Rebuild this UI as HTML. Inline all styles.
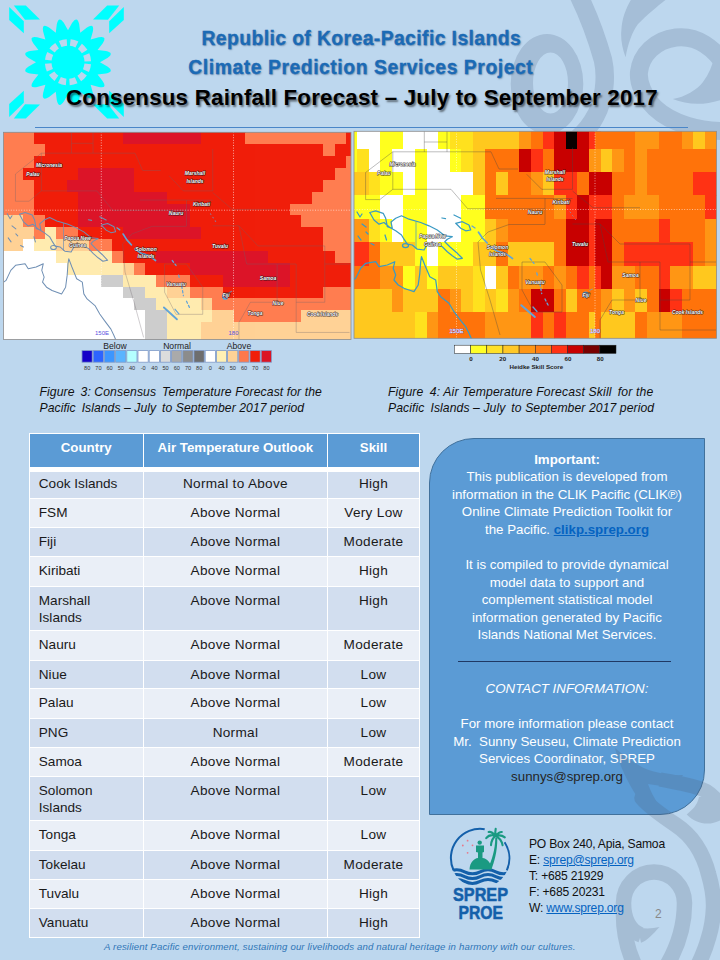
<!DOCTYPE html>
<html lang="en"><head><meta charset="utf-8"><title>Consensus Rainfall Forecast</title>
<style>
html,body{margin:0;padding:0}
body{width:720px;height:960px;position:relative;overflow:hidden;background:#BDD7EE;font-family:"Liberation Sans",sans-serif;color:#111}
.abs{position:absolute}
svg{position:absolute;left:0;top:0}
.t1{position:absolute;white-space:nowrap;font-weight:bold;color:#1B6AB5;-webkit-text-stroke:.3px #1B6AB5;font-size:19.3px;line-height:24px;text-shadow:1px 1px 1.5px rgba(60,90,130,.55);transform-origin:0 0}
.t3{position:absolute;white-space:nowrap;font-weight:bold;color:#000;font-size:22.3px;line-height:28px;letter-spacing:.23px;text-shadow:1.5px 1.5px 2px rgba(0,0,0,.5);transform-origin:0 0}
.cap{position:absolute;white-space:nowrap;font-style:italic;font-size:12.2px;line-height:16.3px;color:#111;transform-origin:0 0}
.ml{font:italic bold 5px "Liberation Sans",sans-serif;fill:#fff;text-anchor:middle;paint-order:stroke;stroke:rgba(25,20,25,.85);stroke-width:1.1px;stroke-linejoin:round}
.ll{font:8.6px "Liberation Sans",sans-serif;fill:#222;text-anchor:middle}
.ln{font:5.6px "Liberation Sans",sans-serif;fill:#333;text-anchor:middle}
.hn{font:bold 6.2px "Liberation Sans",sans-serif;fill:#222;text-anchor:middle}
.deg{font:6px "Liberation Sans",sans-serif;fill:#5A50E0;text-anchor:middle}
.tb{position:absolute}
.th{position:absolute;background:#5B9BD5;color:#fff;font-weight:bold;font-size:13.3px;text-align:center;line-height:28px;white-space:nowrap}
.td{position:absolute;font-size:13.6px;line-height:17px;color:#1a1a1a;box-sizing:border-box;padding-top:5px;white-space:nowrap}
.td.l{text-align:left;padding-left:9px}
.td.c{text-align:center;letter-spacing:.3px}
.box{position:absolute;left:429px;top:437.5px;width:276px;height:377px;box-sizing:border-box;background:#5B9BD5;border:1px solid #41719C;border-radius:45px 0 45px 0}
.bx{position:absolute;left:429px;width:276px;text-align:center;color:#fff;font-size:13.3px;line-height:17.6px;white-space:nowrap}
.bx a{color:#0563C1;font-weight:bold;text-decoration:underline}
.ci{position:absolute;left:529px;font-size:12.1px;letter-spacing:-.2px;line-height:16px;white-space:nowrap;color:#111}
.ci a{color:#0563C1;text-decoration:underline}
.ft{position:absolute;white-space:nowrap;font-style:italic;font-size:9.6px;letter-spacing:.16px;color:#2E75B6;left:104px;top:940.2px;line-height:14px}
</style></head><body>

<!-- decorative swirls -->
<svg width="720" height="960" viewBox="0 0 720 960">
 <g fill="none" stroke="#A5BED7">
  <path d="M577 -8 C586 10 596 35 603 60 C607 78 604 100 596 115 C591 125 585 132 578 138" stroke-width="18.5"/>
  <path d="M724 131 C700 131 672 124 655 108 C643 96 638 82 639 72 C641 55 655 40 676 37.5 C697 35 714 48 726 66" stroke-width="18"/>
 </g>
 <g fill="#A5BED7">
  <path fill-rule="evenodd" d="M510.7 84 A36.3 50 0 1 1 583.3 84 A36.3 50 0 1 1 510.7 84 Z M533 83 A17.5 30.5 0 1 0 568 83 A17.5 30.5 0 1 0 533 83 Z"/>
  <path d="M632 -2 L668 -2 C660 4 648 14 638 24 C632 32 628 44 625.6 57.2 C622 48 620.5 38 621.4 30 C622 18 626 8 632 -2 Z"/>
  <path d="M672.8 99 C685 97 697 90 703 82 C709 74 712 66 714 58 L726 58 L726 98 C706 106 688 105 672.8 99 Z"/>
 </g>
</svg>

<!-- logo -->
<svg width="135" height="130" viewBox="0 0 135 130">
 <g fill="#00FFFF">
  <polygon points="13.8,5.4 25.8,5.4 40,19.6 25,19.8"/>
  <polygon points="9.2,7.1 23.8,21.3 23.8,33.3 9.2,20"/>
  <polygon points="119.2,5.4 107.2,5.4 93,19.6 108,19.8"/>
  <polygon points="123.8,7.1 109.2,21.3 109.2,33.3 123.8,20"/>
  <polygon points="13.8,118.6 25.8,118.6 40,104.4 25,104.2"/>
  <polygon points="9.2,116.9 23.8,102.7 23.8,90.7 9.2,104"/>
  <polygon points="119.2,118.6 107.2,118.6 93,104.4 108,104.2"/>
  <polygon points="123.8,116.9 109.2,102.7 109.2,90.7 123.8,104"/>
  <path id="sun" d="M72.20 22.82 Q77.32 15.36 79.19 24.21 L80.25 32.64 L86.95 27.43 Q94.53 22.49 92.87 31.38 L90.63 39.57 L98.82 37.33 Q107.71 35.67 102.77 43.25 L97.56 49.95 L105.99 51.01 Q114.84 52.88 107.38 58.00 L100.00 62.20 L107.38 66.40 Q114.84 71.52 105.99 73.39 L97.56 74.45 L102.77 81.15 Q107.71 88.73 98.82 87.07 L90.63 84.83 L92.87 93.02 Q94.53 101.91 86.95 96.97 L80.25 91.76 L79.19 100.19 Q77.32 109.04 72.20 101.58 L68.00 94.20 L63.80 101.58 Q58.68 109.04 56.81 100.19 L55.75 91.76 L49.05 96.97 Q41.47 101.91 43.13 93.02 L45.37 84.83 L37.18 87.07 Q28.29 88.73 33.23 81.15 L38.44 74.45 L30.01 73.39 Q21.16 71.52 28.62 66.40 L36.00 62.20 L28.62 58.00 Q21.16 52.88 30.01 51.01 L38.44 49.95 L33.23 43.25 Q28.29 35.67 37.18 37.33 L45.37 39.57 L43.13 31.38 Q41.47 22.49 49.05 27.43 L55.75 32.64 L56.81 24.21 Q58.68 15.36 63.80 22.82 L68.00 30.20 Z"/>
 </g>
 <circle cx="68" cy="62.2" r="19.8" fill="none" stroke="#BDD7EE" stroke-width="6.6" stroke-dasharray="6.87 3.497" stroke-dashoffset="-1.75"/>
</svg>

<div class="t1" id="t1a" style="left:201.5px;top:27px;letter-spacing:.43px">Republic of Korea-Pacific Islands</div>
<div class="t1" id="t1b" style="left:188.3px;top:55.8px;letter-spacing:.58px">Climate Prediction Services Project</div>
<div class="t3" id="t3" style="left:66px;top:84.1px">Consensus Rainfall Forecast – July to September 2017</div>
<div class="abs" style="left:35px;top:127px;width:653px;height:1.3px;background:#4A86C8"></div>

<!-- maps -->
<svg width="720" height="380" viewBox="0 0 720 380">
 <defs>
  <clipPath id="cl"><rect x="3.5" y="132.3" width="347.5" height="207.2"/></clipPath>
  <clipPath id="cr"><rect x="354" y="131.3" width="362.6" height="207"/></clipPath>

  <g id="coast" fill="none" stroke-linejoin="round" stroke-linecap="round">
   <path d="M369.8 212.5 L375.7 210.8 L383.2 213.3 L385.7 218.3 L387.3 226.7 L392.3 228.3 L391 222 L395.7 218.3 L401.5 215.8 L409 219.2 L420.7 222.5 L429 225.8 L437.3 230 L444.8 235.8 L452.3 236.7 L447.3 239.2 L444.8 241.7 L449.8 246.7 L456.5 252.5 L462.3 258.3 L457.3 259.2 L452.3 255.8 L447.3 251.7 L442.3 246.7 L435.7 243.3 L427.3 244.2 L424 250 L417.3 249.2 L412.3 245 L407.3 244.2 L404 239.2 L401.5 235 L395.7 230.8 L389.8 227.5 L384 222.5 L379 224.2 L374 220 Z"/>
   <path d="M416 221.7 V248.3" stroke-width=".7"/>
   <path d="M354 279.5 L355.7 278.3 L360.7 268.3 L365.7 263.3 L375.7 261.7 L379 266.7 L387.3 265 L394.8 261.7 L393.2 268.3 L395.7 275 L394 280 L398.2 285 L404 288.3 L409 290 L414 291.7 L418.2 285 L419.8 273.3 L420.7 261.7 L421.5 256.7 L424.8 265 L429.8 276.7 L435.7 280 L437.3 291.7 L440.7 296.7 L449 303.3 L454 311.7 L459 318.3 L465.7 326.7 L469 333.3 L472 340"/>
   <path d="M455.7 223.3 L462.3 221.7 L469 225 L470.7 230 L465.7 230.8 L460.7 228.3 Z"/>
   <path d="M454 215 L460.7 218.3 M442 218 l3.5 .6 M385 235 l1.5 5 M371 243.5 l3 1.5 M357 212 l3 5 2 -3 M362 224 l4 3 M358 236 l3 4 M366 232 l2 2"/>
   <ellipse cx="405.5" cy="245.5" rx="3" ry="2"/>
  </g>
  <g id="eez" fill="none" stroke-linejoin="round">
   <path d="M424.3 131 V151.8 M424.3 142 H447 M447 131 V151.8"/>
   <path d="M392.8 151.8 L365.6 172.5 V199.6 H379.8 L392.8 189.3 V151.8"/>
   <path d="M392.8 151.8 H491 L499 169 H518 M392.8 189.3 H451 L467.7 208.7 H545"/>
   <path d="M496 198.4 H545 V224.2 M545 198.5 H572.5 M526.7 174.3 L541.7 189.3 H572.5 V147.7 M572.5 191 L593 207.7 H640"/>
   <path d="M478 242 L488 232 L509 224.5 H545 M478 242 L480.5 270 L490 300 L500 335"/>
   <path d="M522 262 L545 262 L562 285 L562 312 L534 312 L522 290 Z"/>
   <path d="M572.5 224 L600 224 L620 244 M600 224 L608 262 L640 262 L640 300 L612 300 L600 320 L600 338"/>
   <path d="M620 244 H690 V300 H660 V262 H640 M690 262 H716 M660 300 V330 H716"/>
  </g>
  <g id="isl" fill="none" stroke-linecap="round" stroke-linejoin="round">
   <path d="M478.5 232.2 L482.4 238 L487.2 243 M491 247 L497 251 L505.7 253.6 L512.5 258.5" stroke-width="1.7"/>
   <path d="M530 258.5 L534 263.4 M536.8 273 L537.8 277 M540 284 L541.7 293.5 M545 299 L548.5 306" stroke-width="1.3" stroke-dasharray="2.2 2.4"/>
   <path d="M521.3 305.2 L534.9 316.9" stroke-width="2"/>
   <path d="M533 307 l4 4.5 M472 226 l3 2" stroke-width="1.3"/>
   <circle cx="585.5" cy="294.5" r="2" stroke-width="2.2"/>
   <path d="M589.5 290.5 l3 -1.5 M570 212 l.6 .6 M572.5 215.5 l.6 .6 M575 219 l.6 .6" stroke-width="1" opacity=".7"/>
  </g>

 </defs>
 <g clip-path="url(#cl)" shape-rendering="crispEdges">
<rect x="0.33" y="132.30" width="33.72" height="12.17" fill="#FF7D50"/>
<rect x="33.75" y="132.30" width="89.42" height="12.17" fill="#F01E0A"/>
<rect x="122.87" y="132.30" width="78.28" height="12.17" fill="#DC1428"/>
<rect x="200.85" y="132.30" width="44.86" height="12.17" fill="#F01E0A"/>
<rect x="245.41" y="132.30" width="100.56" height="12.17" fill="#FF7D50"/>
<rect x="345.67" y="132.30" width="11.44" height="12.17" fill="#F01E0A"/>
<rect x="0.33" y="144.17" width="44.86" height="12.17" fill="#FF7D50"/>
<rect x="44.89" y="144.17" width="278.80" height="12.17" fill="#F01E0A"/>
<rect x="323.39" y="144.17" width="11.44" height="12.17" fill="#FF7D50"/>
<rect x="334.53" y="144.17" width="22.58" height="12.17" fill="#F01E0A"/>
<rect x="0.33" y="156.04" width="33.72" height="12.17" fill="#FF7D50"/>
<rect x="33.75" y="156.04" width="312.22" height="12.17" fill="#F01E0A"/>
<rect x="345.67" y="156.04" width="11.44" height="12.17" fill="#FF7D50"/>
<rect x="0.33" y="167.91" width="22.58" height="12.17" fill="#FF7D50"/>
<rect x="22.61" y="167.91" width="56.00" height="12.17" fill="#F01E0A"/>
<rect x="78.31" y="167.91" width="56.00" height="12.17" fill="#DC1428"/>
<rect x="134.01" y="167.91" width="200.82" height="12.17" fill="#F01E0A"/>
<rect x="334.53" y="167.91" width="22.58" height="12.17" fill="#FF7D50"/>
<rect x="0.33" y="179.78" width="33.72" height="12.17" fill="#FF7D50"/>
<rect x="33.75" y="179.78" width="33.72" height="12.17" fill="#F01E0A"/>
<rect x="67.17" y="179.78" width="67.14" height="12.17" fill="#DC1428"/>
<rect x="134.01" y="179.78" width="189.68" height="12.17" fill="#F01E0A"/>
<rect x="323.39" y="179.78" width="33.72" height="12.17" fill="#FF7D50"/>
<rect x="0.33" y="191.65" width="33.72" height="12.17" fill="#FF7D50"/>
<rect x="33.75" y="191.65" width="44.86" height="12.17" fill="#F01E0A"/>
<rect x="78.31" y="191.65" width="89.42" height="12.17" fill="#DC1428"/>
<rect x="167.43" y="191.65" width="145.12" height="12.17" fill="#F01E0A"/>
<rect x="312.25" y="191.65" width="44.86" height="12.17" fill="#FF7D50"/>
<rect x="0.33" y="203.52" width="33.72" height="12.17" fill="#FF7D50"/>
<rect x="33.75" y="203.52" width="44.86" height="12.17" fill="#F01E0A"/>
<rect x="78.31" y="203.52" width="111.70" height="12.17" fill="#DC1428"/>
<rect x="189.71" y="203.52" width="100.56" height="12.17" fill="#F01E0A"/>
<rect x="289.97" y="203.52" width="67.14" height="12.17" fill="#FF7D50"/>
<rect x="0.33" y="215.39" width="22.58" height="12.17" fill="#FFD296"/>
<rect x="22.61" y="215.39" width="22.58" height="12.17" fill="#FF7D50"/>
<rect x="44.89" y="215.39" width="33.72" height="12.17" fill="#F01E0A"/>
<rect x="78.31" y="215.39" width="111.70" height="12.17" fill="#DC1428"/>
<rect x="189.71" y="215.39" width="111.70" height="12.17" fill="#F01E0A"/>
<rect x="301.11" y="215.39" width="56.00" height="12.17" fill="#FF7D50"/>
<rect x="0.33" y="227.26" width="33.72" height="12.17" fill="#FFD296"/>
<rect x="33.75" y="227.26" width="11.44" height="12.17" fill="#FF7D50"/>
<rect x="44.89" y="227.26" width="11.44" height="12.17" fill="#FFEBAF"/>
<rect x="56.03" y="227.26" width="22.58" height="12.17" fill="#FF7D50"/>
<rect x="78.31" y="227.26" width="44.86" height="12.17" fill="#F01E0A"/>
<rect x="122.87" y="227.26" width="78.28" height="12.17" fill="#DC1428"/>
<rect x="200.85" y="227.26" width="122.84" height="12.17" fill="#F01E0A"/>
<rect x="323.39" y="227.26" width="33.72" height="12.17" fill="#FF7D50"/>
<rect x="0.33" y="239.13" width="22.58" height="12.17" fill="#FFD296"/>
<rect x="22.61" y="239.13" width="11.44" height="12.17" fill="#FFFFFF"/>
<rect x="33.75" y="239.13" width="22.58" height="12.17" fill="#FFEBAF"/>
<rect x="56.03" y="239.13" width="33.72" height="12.17" fill="#FFD296"/>
<rect x="89.45" y="239.13" width="22.58" height="12.17" fill="#FF7D50"/>
<rect x="111.73" y="239.13" width="211.96" height="12.17" fill="#F01E0A"/>
<rect x="323.39" y="239.13" width="33.72" height="12.17" fill="#FF7D50"/>
<rect x="0.33" y="251.00" width="56.00" height="12.17" fill="#FFFFFF"/>
<rect x="56.03" y="251.00" width="56.00" height="12.17" fill="#FFEBAF"/>
<rect x="111.73" y="251.00" width="11.44" height="12.17" fill="#FF7D50"/>
<rect x="122.87" y="251.00" width="33.72" height="12.17" fill="#F01E0A"/>
<rect x="156.29" y="251.00" width="111.70" height="12.17" fill="#DC1428"/>
<rect x="267.69" y="251.00" width="67.14" height="12.17" fill="#F01E0A"/>
<rect x="334.53" y="251.00" width="22.58" height="12.17" fill="#FF7D50"/>
<rect x="0.33" y="262.87" width="67.14" height="12.17" fill="#FFFFFF"/>
<rect x="67.17" y="262.87" width="56.00" height="12.17" fill="#FFEBAF"/>
<rect x="122.87" y="262.87" width="11.44" height="12.17" fill="#FFD296"/>
<rect x="134.01" y="262.87" width="11.44" height="12.17" fill="#FF7D50"/>
<rect x="145.15" y="262.87" width="44.86" height="12.17" fill="#F01E0A"/>
<rect x="189.71" y="262.87" width="100.56" height="12.17" fill="#DC1428"/>
<rect x="289.97" y="262.87" width="67.14" height="12.17" fill="#F01E0A"/>
<rect x="0.33" y="274.74" width="100.56" height="12.17" fill="#FFFFFF"/>
<rect x="100.59" y="274.74" width="22.58" height="12.17" fill="#CDCDCD"/>
<rect x="122.87" y="274.74" width="33.72" height="12.17" fill="#FFEBAF"/>
<rect x="156.29" y="274.74" width="33.72" height="12.17" fill="#FF7D50"/>
<rect x="189.71" y="274.74" width="33.72" height="12.17" fill="#F01E0A"/>
<rect x="223.13" y="274.74" width="67.14" height="12.17" fill="#DC1428"/>
<rect x="289.97" y="274.74" width="67.14" height="12.17" fill="#F01E0A"/>
<rect x="0.33" y="286.61" width="122.84" height="12.17" fill="#FFFFFF"/>
<rect x="122.87" y="286.61" width="22.58" height="12.17" fill="#CDCDCD"/>
<rect x="145.15" y="286.61" width="22.58" height="12.17" fill="#FFEBAF"/>
<rect x="167.43" y="286.61" width="22.58" height="12.17" fill="#FFD296"/>
<rect x="189.71" y="286.61" width="33.72" height="12.17" fill="#FF7D50"/>
<rect x="223.13" y="286.61" width="100.56" height="12.17" fill="#F01E0A"/>
<rect x="323.39" y="286.61" width="33.72" height="12.17" fill="#FF7D50"/>
<rect x="0.33" y="298.48" width="133.98" height="12.17" fill="#FFFFFF"/>
<rect x="134.01" y="298.48" width="22.58" height="12.17" fill="#CDCDCD"/>
<rect x="156.29" y="298.48" width="44.86" height="12.17" fill="#FFEBAF"/>
<rect x="200.85" y="298.48" width="11.44" height="12.17" fill="#FFD296"/>
<rect x="211.99" y="298.48" width="145.12" height="12.17" fill="#FF7D50"/>
<rect x="0.33" y="310.35" width="145.12" height="12.17" fill="#FFFFFF"/>
<rect x="145.15" y="310.35" width="22.58" height="12.17" fill="#CDCDCD"/>
<rect x="167.43" y="310.35" width="44.86" height="12.17" fill="#FFEBAF"/>
<rect x="211.99" y="310.35" width="22.58" height="12.17" fill="#FFD296"/>
<rect x="234.27" y="310.35" width="67.14" height="12.17" fill="#FF7D50"/>
<rect x="301.11" y="310.35" width="56.00" height="12.17" fill="#FFD296"/>
<rect x="0.33" y="322.22" width="145.12" height="12.17" fill="#FFFFFF"/>
<rect x="145.15" y="322.22" width="22.58" height="12.17" fill="#CDCDCD"/>
<rect x="167.43" y="322.22" width="33.72" height="12.17" fill="#FFEBAF"/>
<rect x="200.85" y="322.22" width="156.26" height="12.17" fill="#FFD296"/>
<rect x="0.33" y="334.09" width="145.12" height="12.17" fill="#FFFFFF"/>
<rect x="145.15" y="334.09" width="22.58" height="12.17" fill="#CDCDCD"/>
<rect x="167.43" y="334.09" width="33.72" height="12.17" fill="#FFEBAF"/>
<rect x="200.85" y="334.09" width="156.26" height="12.17" fill="#FFD296"/>
 </g>
 <g clip-path="url(#cl)">

  <g stroke="#fff" stroke-width="0.7" stroke-dasharray="1 1.6" fill="none" opacity=".85"><path d="M3 210.2H351"/><path d="M101.3 132V340"/><path d="M233.5 132V340"/></g>
  <g transform="translate(33 174) scale(0.95356 1.00604) translate(-384 -172.5)"><use href="#eez" stroke="rgba(110,100,110,.55)" stroke-width=".6"/><use href="#coast" stroke="#6F8FB4" stroke-width="1.05"/><use href="#isl" stroke="#62A4D8"/></g>
  <text x="102" y="334.5" class="deg">150E</text><text x="233.5" y="334.5" class="deg">180</text>
<text x="49.0" y="167.0" class="ml">Micronesia</text>
<text x="33.0" y="176.0" class="ml">Palau</text>
<text x="195.0" y="174.5" class="ml">Marshall</text>
<text x="195.0" y="182.5" class="ml">Islands</text>
<text x="201.5" y="205.5" class="ml">Kiribati</text>
<text x="176.0" y="215.0" class="ml">Nauru</text>
<text x="220.0" y="248.0" class="ml">Tuvalu</text>
<text x="77.5" y="239.5" class="ml">Papua New</text>
<text x="77.5" y="247.0" class="ml">Guinea</text>
<text x="146.0" y="250.5" class="ml">Solomon</text>
<text x="146.0" y="258.0" class="ml">Islands</text>
<text x="268.0" y="279.5" class="ml">Samoa</text>
<text x="176.0" y="285.5" class="ml">Vanuatu</text>
<text x="226.0" y="297.0" class="ml">Fiji</text>
<text x="278.0" y="304.5" class="ml">Niue</text>
<text x="255.0" y="314.5" class="ml">Tonga</text>
<text x="322.5" y="315.5" class="ml">Cook Islands</text>
 </g>
 <rect x="3.5" y="132.3" width="347.5" height="207.2" fill="none" stroke="#8C8C8C" stroke-width="0.8"/>
 <g clip-path="url(#cr)" shape-rendering="crispEdges">
<rect x="354.00" y="131.30" width="3.30" height="17.50" fill="#FFFF1E"/>
<rect x="357.00" y="131.30" width="23.50" height="17.50" fill="#FFFFFF"/>
<rect x="380.20" y="131.30" width="23.50" height="17.50" fill="#FFFF1E"/>
<rect x="403.40" y="131.30" width="35.10" height="17.50" fill="#FFFFFF"/>
<rect x="438.20" y="131.30" width="11.90" height="17.50" fill="#FFFF1E"/>
<rect x="449.80" y="131.30" width="23.50" height="17.50" fill="#FFE11E"/>
<rect x="473.00" y="131.30" width="46.70" height="17.50" fill="#FFC81E"/>
<rect x="519.40" y="131.30" width="11.90" height="17.50" fill="#FF9614"/>
<rect x="531.00" y="131.30" width="11.90" height="17.50" fill="#FF730A"/>
<rect x="542.60" y="131.30" width="11.90" height="17.50" fill="#FF3214"/>
<rect x="554.20" y="131.30" width="11.90" height="17.50" fill="#C80000"/>
<rect x="565.80" y="131.30" width="11.90" height="17.50" fill="#0A0000"/>
<rect x="577.40" y="131.30" width="11.90" height="17.50" fill="#C80000"/>
<rect x="589.00" y="131.30" width="11.90" height="17.50" fill="#FF3214"/>
<rect x="600.60" y="131.30" width="35.10" height="17.50" fill="#FF730A"/>
<rect x="635.40" y="131.30" width="23.50" height="17.50" fill="#FF9614"/>
<rect x="658.60" y="131.30" width="23.50" height="17.50" fill="#FF730A"/>
<rect x="681.80" y="131.30" width="11.90" height="17.50" fill="#FF9614"/>
<rect x="693.40" y="131.30" width="11.90" height="17.50" fill="#FFC81E"/>
<rect x="705.00" y="131.30" width="11.90" height="17.50" fill="#FF9614"/>
<rect x="589" y="131.30" width="6" height="17.50" fill="#FF3214"/>
<rect x="595" y="131.30" width="5.9" height="17.50" fill="#FF730A"/>
<rect x="354.00" y="148.50" width="3.30" height="23.70" fill="#FFFF1E"/>
<rect x="357.00" y="148.50" width="11.90" height="23.70" fill="#FFE11E"/>
<rect x="368.60" y="148.50" width="11.90" height="23.70" fill="#FFFFFF"/>
<rect x="380.20" y="148.50" width="11.90" height="23.70" fill="#FFFF1E"/>
<rect x="391.80" y="148.50" width="23.50" height="23.70" fill="#FFFFFF"/>
<rect x="415.00" y="148.50" width="11.90" height="23.70" fill="#FFFF1E"/>
<rect x="426.60" y="148.50" width="23.50" height="23.70" fill="#FFFFFF"/>
<rect x="449.80" y="148.50" width="11.90" height="23.70" fill="#FFFF1E"/>
<rect x="461.40" y="148.50" width="11.90" height="23.70" fill="#FFE11E"/>
<rect x="473.00" y="148.50" width="11.90" height="23.70" fill="#FFC81E"/>
<rect x="484.60" y="148.50" width="35.10" height="23.70" fill="#FF730A"/>
<rect x="519.40" y="148.50" width="11.90" height="23.70" fill="#C80000"/>
<rect x="531.00" y="148.50" width="11.90" height="23.70" fill="#FF3214"/>
<rect x="542.60" y="148.50" width="11.90" height="23.70" fill="#FF730A"/>
<rect x="554.20" y="148.50" width="35.10" height="23.70" fill="#C80000"/>
<rect x="589.00" y="148.50" width="11.90" height="23.70" fill="#FF9614"/>
<rect x="600.60" y="148.50" width="11.90" height="23.70" fill="#FFC81E"/>
<rect x="612.20" y="148.50" width="11.90" height="23.70" fill="#FF9614"/>
<rect x="623.80" y="148.50" width="11.90" height="23.70" fill="#FF730A"/>
<rect x="635.40" y="148.50" width="11.90" height="23.70" fill="#FF9614"/>
<rect x="647.00" y="148.50" width="69.90" height="23.70" fill="#FF730A"/>
<rect x="354.00" y="171.90" width="14.90" height="23.70" fill="#FFC81E"/>
<rect x="368.60" y="171.90" width="11.90" height="23.70" fill="#FFE11E"/>
<rect x="380.20" y="171.90" width="23.50" height="23.70" fill="#FFFF1E"/>
<rect x="403.40" y="171.90" width="11.90" height="23.70" fill="#FFFFFF"/>
<rect x="415.00" y="171.90" width="11.90" height="23.70" fill="#FFFF1E"/>
<rect x="426.60" y="171.90" width="46.70" height="23.70" fill="#FFFFFF"/>
<rect x="473.00" y="171.90" width="11.90" height="23.70" fill="#FFC81E"/>
<rect x="484.60" y="171.90" width="11.90" height="23.70" fill="#FF730A"/>
<rect x="496.20" y="171.90" width="11.90" height="23.70" fill="#FFC81E"/>
<rect x="507.80" y="171.90" width="23.50" height="23.70" fill="#FF730A"/>
<rect x="531.00" y="171.90" width="11.90" height="23.70" fill="#FF9614"/>
<rect x="542.60" y="171.90" width="11.90" height="23.70" fill="#FFC81E"/>
<rect x="554.20" y="171.90" width="23.50" height="23.70" fill="#FF3214"/>
<rect x="577.40" y="171.90" width="11.90" height="23.70" fill="#FF730A"/>
<rect x="589.00" y="171.90" width="23.50" height="23.70" fill="#C80000"/>
<rect x="612.20" y="171.90" width="23.50" height="23.70" fill="#FF730A"/>
<rect x="635.40" y="171.90" width="11.90" height="23.70" fill="#FF9614"/>
<rect x="647.00" y="171.90" width="46.70" height="23.70" fill="#FF730A"/>
<rect x="693.40" y="171.90" width="23.50" height="23.70" fill="#FF3214"/>
<rect x="354.00" y="195.30" width="26.50" height="23.70" fill="#FFFF1E"/>
<rect x="380.20" y="195.30" width="23.50" height="23.70" fill="#FFFFFF"/>
<rect x="403.40" y="195.30" width="23.50" height="23.70" fill="#FFFF1E"/>
<rect x="426.60" y="195.30" width="35.10" height="23.70" fill="#FFFFFF"/>
<rect x="461.40" y="195.30" width="23.50" height="23.70" fill="#FFFF1E"/>
<rect x="484.60" y="195.30" width="69.90" height="23.70" fill="#FF730A"/>
<rect x="554.20" y="195.30" width="11.90" height="23.70" fill="#FF9614"/>
<rect x="565.80" y="195.30" width="11.90" height="23.70" fill="#FF3214"/>
<rect x="577.40" y="195.30" width="11.90" height="23.70" fill="#C80000"/>
<rect x="589.00" y="195.30" width="23.50" height="23.70" fill="#FF3214"/>
<rect x="612.20" y="195.30" width="11.90" height="23.70" fill="#FF730A"/>
<rect x="623.80" y="195.30" width="35.10" height="23.70" fill="#FF9614"/>
<rect x="658.60" y="195.30" width="46.70" height="23.70" fill="#FF730A"/>
<rect x="705.00" y="195.30" width="11.90" height="23.70" fill="#FF3214"/>
<rect x="354.00" y="218.70" width="14.90" height="23.70" fill="#FF9614"/>
<rect x="368.60" y="218.70" width="11.90" height="23.70" fill="#FFE11E"/>
<rect x="380.20" y="218.70" width="11.90" height="23.70" fill="#FFFF1E"/>
<rect x="391.80" y="218.70" width="11.90" height="23.70" fill="#FFFFFF"/>
<rect x="403.40" y="218.70" width="23.50" height="23.70" fill="#FFFF1E"/>
<rect x="426.60" y="218.70" width="35.10" height="23.70" fill="#FFFFFF"/>
<rect x="461.40" y="218.70" width="23.50" height="23.70" fill="#FFFF1E"/>
<rect x="484.60" y="218.70" width="11.90" height="23.70" fill="#FFC81E"/>
<rect x="496.20" y="218.70" width="11.90" height="23.70" fill="#FF9614"/>
<rect x="507.80" y="218.70" width="58.30" height="23.70" fill="#FF730A"/>
<rect x="565.80" y="218.70" width="23.50" height="23.70" fill="#C80000"/>
<rect x="589.00" y="218.70" width="11.90" height="23.70" fill="#FF3214"/>
<rect x="600.60" y="218.70" width="11.90" height="23.70" fill="#C80000"/>
<rect x="612.20" y="218.70" width="46.70" height="23.70" fill="#FF730A"/>
<rect x="658.60" y="218.70" width="11.90" height="23.70" fill="#FF3214"/>
<rect x="670.20" y="218.70" width="35.10" height="23.70" fill="#FF730A"/>
<rect x="705.00" y="218.70" width="11.90" height="23.70" fill="#FF9614"/>
<rect x="589" y="218.70" width="6" height="23.70" fill="#FF3214"/>
<rect x="595" y="218.70" width="5.9" height="23.70" fill="#C80000"/>
<rect x="354.00" y="242.10" width="14.90" height="23.70" fill="#FF3214"/>
<rect x="368.60" y="242.10" width="11.90" height="23.70" fill="#FF730A"/>
<rect x="380.20" y="242.10" width="35.10" height="23.70" fill="#FFC81E"/>
<rect x="415.00" y="242.10" width="11.90" height="23.70" fill="#FFFF1E"/>
<rect x="426.60" y="242.10" width="11.90" height="23.70" fill="#FFFFFF"/>
<rect x="438.20" y="242.10" width="35.10" height="23.70" fill="#FFFF1E"/>
<rect x="473.00" y="242.10" width="23.50" height="23.70" fill="#FFC81E"/>
<rect x="496.20" y="242.10" width="11.90" height="23.70" fill="#FF730A"/>
<rect x="507.80" y="242.10" width="46.70" height="23.70" fill="#FFC81E"/>
<rect x="554.20" y="242.10" width="11.90" height="23.70" fill="#FF730A"/>
<rect x="565.80" y="242.10" width="23.50" height="23.70" fill="#C80000"/>
<rect x="589.00" y="242.10" width="11.90" height="23.70" fill="#FF3214"/>
<rect x="600.60" y="242.10" width="11.90" height="23.70" fill="#C80000"/>
<rect x="612.20" y="242.10" width="11.90" height="23.70" fill="#FF730A"/>
<rect x="623.80" y="242.10" width="69.90" height="23.70" fill="#FF3214"/>
<rect x="693.40" y="242.10" width="11.90" height="23.70" fill="#FF730A"/>
<rect x="705.00" y="242.10" width="11.90" height="23.70" fill="#FF9614"/>
<rect x="589" y="242.10" width="6" height="23.70" fill="#FF3214"/>
<rect x="595" y="242.10" width="5.9" height="23.70" fill="#C80000"/>
<rect x="354.00" y="265.50" width="26.50" height="23.70" fill="#FF730A"/>
<rect x="380.20" y="265.50" width="23.50" height="23.70" fill="#FF9614"/>
<rect x="403.40" y="265.50" width="11.90" height="23.70" fill="#FFFF1E"/>
<rect x="415.00" y="265.50" width="11.90" height="23.70" fill="#FFC81E"/>
<rect x="426.60" y="265.50" width="11.90" height="23.70" fill="#FFFF1E"/>
<rect x="438.20" y="265.50" width="35.10" height="23.70" fill="#FFC81E"/>
<rect x="473.00" y="265.50" width="11.90" height="23.70" fill="#FFE11E"/>
<rect x="484.60" y="265.50" width="11.90" height="23.70" fill="#FFFFFF"/>
<rect x="496.20" y="265.50" width="11.90" height="23.70" fill="#FFC81E"/>
<rect x="507.80" y="265.50" width="11.90" height="23.70" fill="#FF730A"/>
<rect x="519.40" y="265.50" width="23.50" height="23.70" fill="#FF9614"/>
<rect x="542.60" y="265.50" width="11.90" height="23.70" fill="#FF730A"/>
<rect x="554.20" y="265.50" width="11.90" height="23.70" fill="#FF9614"/>
<rect x="565.80" y="265.50" width="11.90" height="23.70" fill="#FF730A"/>
<rect x="577.40" y="265.50" width="11.90" height="23.70" fill="#FF3214"/>
<rect x="589.00" y="265.50" width="11.90" height="23.70" fill="#FF730A"/>
<rect x="600.60" y="265.50" width="11.90" height="23.70" fill="#C80000"/>
<rect x="612.20" y="265.50" width="23.50" height="23.70" fill="#FF9614"/>
<rect x="635.40" y="265.50" width="23.50" height="23.70" fill="#FF730A"/>
<rect x="658.60" y="265.50" width="11.90" height="23.70" fill="#FF3214"/>
<rect x="670.20" y="265.50" width="23.50" height="23.70" fill="#FF9614"/>
<rect x="693.40" y="265.50" width="23.50" height="23.70" fill="#FFC81E"/>
<rect x="589" y="265.50" width="6" height="23.70" fill="#FF730A"/>
<rect x="595" y="265.50" width="5.9" height="23.70" fill="#FF3214"/>
<rect x="354.00" y="288.90" width="38.10" height="23.70" fill="#FFC81E"/>
<rect x="391.80" y="288.90" width="11.90" height="23.70" fill="#FF9614"/>
<rect x="403.40" y="288.90" width="35.10" height="23.70" fill="#FFC81E"/>
<rect x="438.20" y="288.90" width="11.90" height="23.70" fill="#FF730A"/>
<rect x="449.80" y="288.90" width="11.90" height="23.70" fill="#FF9614"/>
<rect x="461.40" y="288.90" width="11.90" height="23.70" fill="#FFC81E"/>
<rect x="473.00" y="288.90" width="11.90" height="23.70" fill="#FFE11E"/>
<rect x="484.60" y="288.90" width="11.90" height="23.70" fill="#FFC81E"/>
<rect x="496.20" y="288.90" width="11.90" height="23.70" fill="#FFE11E"/>
<rect x="507.80" y="288.90" width="11.90" height="23.70" fill="#FF9614"/>
<rect x="519.40" y="288.90" width="11.90" height="23.70" fill="#FF730A"/>
<rect x="531.00" y="288.90" width="23.50" height="23.70" fill="#C80000"/>
<rect x="554.20" y="288.90" width="11.90" height="23.70" fill="#FF730A"/>
<rect x="565.80" y="288.90" width="11.90" height="23.70" fill="#FFC81E"/>
<rect x="577.40" y="288.90" width="23.50" height="23.70" fill="#FF730A"/>
<rect x="600.60" y="288.90" width="11.90" height="23.70" fill="#FF9614"/>
<rect x="612.20" y="288.90" width="11.90" height="23.70" fill="#FFC81E"/>
<rect x="623.80" y="288.90" width="11.90" height="23.70" fill="#FF9614"/>
<rect x="635.40" y="288.90" width="11.90" height="23.70" fill="#FFC81E"/>
<rect x="647.00" y="288.90" width="11.90" height="23.70" fill="#FF730A"/>
<rect x="658.60" y="288.90" width="11.90" height="23.70" fill="#C80000"/>
<rect x="670.20" y="288.90" width="11.90" height="23.70" fill="#FF3214"/>
<rect x="681.80" y="288.90" width="35.10" height="23.70" fill="#FF730A"/>
<rect x="354.00" y="312.30" width="61.30" height="26.50" fill="#FFC81E"/>
<rect x="415.00" y="312.30" width="11.90" height="26.50" fill="#FFE11E"/>
<rect x="426.60" y="312.30" width="11.90" height="26.50" fill="#FF9614"/>
<rect x="438.20" y="312.30" width="46.70" height="26.50" fill="#FF730A"/>
<rect x="484.60" y="312.30" width="46.70" height="26.50" fill="#FF9614"/>
<rect x="531.00" y="312.30" width="11.90" height="26.50" fill="#FF3214"/>
<rect x="542.60" y="312.30" width="11.90" height="26.50" fill="#FF730A"/>
<rect x="554.20" y="312.30" width="11.90" height="26.50" fill="#FF3214"/>
<rect x="565.80" y="312.30" width="23.50" height="26.50" fill="#FF730A"/>
<rect x="589.00" y="312.30" width="46.70" height="26.50" fill="#FFC81E"/>
<rect x="635.40" y="312.30" width="11.90" height="26.50" fill="#FF730A"/>
<rect x="647.00" y="312.30" width="35.10" height="26.50" fill="#FF9614"/>
<rect x="681.80" y="312.30" width="35.10" height="26.50" fill="#FF730A"/>
<rect x="589" y="312.30" width="6" height="26.50" fill="#FFC81E"/>
<rect x="595" y="312.30" width="5.9" height="26.50" fill="#FF730A"/>
 </g>
 <g clip-path="url(#cr)">

  <g stroke="#fff" stroke-width="0.7" stroke-dasharray="1 1.6" fill="none" opacity=".8"><path d="M354 209.5H717"/><path d="M456.5 131V339"/><path d="M595 131V339"/></g>
  <use href="#eez" stroke="rgba(70,70,70,.6)" stroke-width=".6"/><use href="#coast" stroke="#3A9AC4" stroke-width="1.25"/><use href="#isl" stroke="#62A4D8"/>
  <text x="456.5" y="333" class="deg" style="fill:#fff;stroke:#5A50E0;stroke-width:.5px;paint-order:stroke">150E</text><text x="595" y="333" class="deg" style="fill:#fff;stroke:#5A50E0;stroke-width:.5px;paint-order:stroke">180</text>
<text x="402.5" y="165.5" class="ml">Micronesia</text>
<text x="384.0" y="174.5" class="ml">Palau</text>
<text x="555.0" y="173.5" class="ml">Marshall</text>
<text x="555.0" y="181.0" class="ml">Islands</text>
<text x="561.0" y="203.5" class="ml">Kiribati</text>
<text x="535.0" y="213.5" class="ml">Nauru</text>
<text x="432.5" y="238.0" class="ml">Papua New</text>
<text x="432.5" y="245.5" class="ml">Guinea</text>
<text x="580.0" y="246.0" class="ml">Tuvalu</text>
<text x="497.5" y="248.5" class="ml">Solomon</text>
<text x="497.5" y="256.0" class="ml">Islands</text>
<text x="630.5" y="277.0" class="ml">Samoa</text>
<text x="535.0" y="283.5" class="ml">Vanuatu</text>
<text x="586.0" y="297.0" class="ml">Fiji</text>
<text x="641.0" y="302.0" class="ml">Niue</text>
<text x="616.5" y="313.5" class="ml">Tonga</text>
<text x="687.5" y="313.5" class="ml">Cook Islands</text>
 </g>
 <rect x="354" y="131.3" width="362.6" height="207" fill="none" stroke="#8C8C8C" stroke-width="0.8"/>
 <g>
<rect x="82.0" y="350.6" width="10.2" height="11.6" fill="#1400C8" stroke="#7F9AC8" stroke-width="0.8"/>
<text x="87.2" y="369.7" class="ln">80</text>
<rect x="93.2" y="350.6" width="10.2" height="11.6" fill="#2D64FF" stroke="#7F9AC8" stroke-width="0.8"/>
<text x="98.4" y="369.7" class="ln">70</text>
<rect x="104.4" y="350.6" width="10.2" height="11.6" fill="#3C96FF" stroke="#7F9AC8" stroke-width="0.8"/>
<text x="109.6" y="369.7" class="ln">60</text>
<rect x="115.6" y="350.6" width="10.2" height="11.6" fill="#5AB4FF" stroke="#7F9AC8" stroke-width="0.8"/>
<text x="120.8" y="369.7" class="ln">50</text>
<rect x="126.8" y="350.6" width="10.2" height="11.6" fill="#B4FFFF" stroke="#7F9AC8" stroke-width="0.8"/>
<text x="132.0" y="369.7" class="ln">40</text>
<rect x="138.0" y="350.6" width="10.2" height="11.6" fill="#FFFFFF" stroke="#7F9AC8" stroke-width="0.8"/>
<text x="143.2" y="369.7" class="ln">-0</text>
<rect x="149.2" y="350.6" width="10.2" height="11.6" fill="#FFFFFF" stroke="#7F9AC8" stroke-width="0.8"/>
<text x="154.4" y="369.7" class="ln">40</text>
<rect x="160.4" y="350.6" width="10.2" height="11.6" fill="#DCDCDC" stroke="#7F9AC8" stroke-width="0.8"/>
<text x="165.6" y="369.7" class="ln">50</text>
<rect x="171.6" y="350.6" width="10.2" height="11.6" fill="#AAAAAA" stroke="#7F9AC8" stroke-width="0.8"/>
<text x="176.8" y="369.7" class="ln">60</text>
<rect x="182.8" y="350.6" width="10.2" height="11.6" fill="#8C8C8C" stroke="#7F9AC8" stroke-width="0.8"/>
<text x="188.0" y="369.7" class="ln">70</text>
<rect x="194.0" y="350.6" width="10.2" height="11.6" fill="#6E6E6E" stroke="#7F9AC8" stroke-width="0.8"/>
<text x="199.2" y="369.7" class="ln">80</text>
<rect x="205.2" y="350.6" width="10.2" height="11.6" fill="#FFFFFF" stroke="#7F9AC8" stroke-width="0.8"/>
<text x="210.4" y="369.7" class="ln">0</text>
<rect x="216.4" y="350.6" width="10.2" height="11.6" fill="#FFF0B4" stroke="#7F9AC8" stroke-width="0.8"/>
<text x="221.6" y="369.7" class="ln">40</text>
<rect x="227.6" y="350.6" width="10.2" height="11.6" fill="#FFD296" stroke="#7F9AC8" stroke-width="0.8"/>
<text x="232.8" y="369.7" class="ln">50</text>
<rect x="238.8" y="350.6" width="10.2" height="11.6" fill="#FF784B" stroke="#7F9AC8" stroke-width="0.8"/>
<text x="244.0" y="369.7" class="ln">60</text>
<rect x="250.0" y="350.6" width="10.2" height="11.6" fill="#F01E0A" stroke="#7F9AC8" stroke-width="0.8"/>
<text x="255.2" y="369.7" class="ln">70</text>
<rect x="261.2" y="350.6" width="10.2" height="11.6" fill="#DC1423" stroke="#7F9AC8" stroke-width="0.8"/>
<text x="266.4" y="369.7" class="ln">80</text>
  <text x="115" y="348.8" class="ll">Below</text>
  <text x="177" y="348.8" class="ll">Normal</text>
  <text x="239" y="348.8" class="ll">Above</text>
<rect x="454.50" y="345.2" width="16.15" height="8.2" fill="#FFFFFF" stroke="#222" stroke-width="0.5"/>
<rect x="470.65" y="345.2" width="16.15" height="8.2" fill="#FFFF28" stroke="#222" stroke-width="0.5"/>
<rect x="486.80" y="345.2" width="16.15" height="8.2" fill="#FFE128" stroke="#222" stroke-width="0.5"/>
<rect x="502.95" y="345.2" width="16.15" height="8.2" fill="#FFC828" stroke="#222" stroke-width="0.5"/>
<rect x="519.10" y="345.2" width="16.15" height="8.2" fill="#FF9614" stroke="#222" stroke-width="0.5"/>
<rect x="535.25" y="345.2" width="16.15" height="8.2" fill="#FF7D14" stroke="#222" stroke-width="0.5"/>
<rect x="551.40" y="345.2" width="16.15" height="8.2" fill="#FF3214" stroke="#222" stroke-width="0.5"/>
<rect x="567.55" y="345.2" width="16.15" height="8.2" fill="#C80000" stroke="#222" stroke-width="0.5"/>
<rect x="583.70" y="345.2" width="16.15" height="8.2" fill="#780000" stroke="#222" stroke-width="0.5"/>
<rect x="599.85" y="345.2" width="16.15" height="8.2" fill="#000000" stroke="#222" stroke-width="0.5"/>
<text x="470.9" y="360.8" class="hn">0</text>
<text x="502.8" y="360.8" class="hn">20</text>
<text x="535.5" y="360.8" class="hn">40</text>
<text x="568.0" y="360.8" class="hn">60</text>
<text x="600.2" y="360.8" class="hn">80</text>
<text x="536.3" y="368.6" class="hn">Heidke Skill Score</text>
 </g>
</svg>

<div class="cap" id="c1a" style="left:39.5px;top:384.1px;letter-spacing:.086px">Figure&nbsp;&thinsp;3: Consensus&nbsp;&thinsp;Temperature Forecast for the</div>
<div class="cap" id="c1b" style="left:39.5px;top:400.3px;letter-spacing:.047px">Pacific&nbsp;&thinsp;Islands – July&nbsp;&thinsp;to September 2017 period</div>
<div class="cap" id="c2a" style="left:388px;top:384.1px;letter-spacing:.164px">Figure&nbsp;&thinsp;4: Air Temperature Forecast Skill&nbsp;&thinsp;for the</div>
<div class="cap" id="c2b" style="left:388px;top:400.3px;letter-spacing:.079px">Pacific&nbsp;&thinsp;Islands – July&nbsp;&thinsp;to September 2017 period</div>

<div class="tb" style="left:29px;top:433.3px;width:390.5px;height:504.7px;background:#fff"></div>
<div class="th" style="left:29.8px;top:434.2px;width:112.9px;height:33.3px">Country</div>
<div class="th" style="left:143.9px;top:434.2px;width:183.1px;height:33.3px">Air Temperature Outlook</div>
<div class="th" style="left:328.2px;top:434.2px;width:90.6px;height:33.3px">Skill</div>
<div class="td l" style="left:29.8px;top:471.5px;width:112.9px;height:26.0px;background:#D2DEEF;padding-top:3px"><span>Cook Islands</span></div>
<div class="td c" style="left:143.9px;top:471.5px;width:183.1px;height:26.0px;background:#D2DEEF;padding-top:3px"><span>Normal to Above</span></div>
<div class="td c" style="left:328.2px;top:471.5px;width:90.6px;height:26.0px;background:#D2DEEF;padding-top:3px"><span>High</span></div>
<div class="td l" style="left:29.8px;top:498.5px;width:112.9px;height:28.5px;background:#EAEFF7"><span>FSM</span></div>
<div class="td c" style="left:143.9px;top:498.5px;width:183.1px;height:28.5px;background:#EAEFF7"><span>Above Normal</span></div>
<div class="td c" style="left:328.2px;top:498.5px;width:90.6px;height:28.5px;background:#EAEFF7"><span>Very Low</span></div>
<div class="td l" style="left:29.8px;top:528.0px;width:112.9px;height:28.0px;background:#D2DEEF"><span>Fiji</span></div>
<div class="td c" style="left:143.9px;top:528.0px;width:183.1px;height:28.0px;background:#D2DEEF"><span>Above Normal</span></div>
<div class="td c" style="left:328.2px;top:528.0px;width:90.6px;height:28.0px;background:#D2DEEF"><span>Moderate</span></div>
<div class="td l" style="left:29.8px;top:557.0px;width:112.9px;height:28.5px;background:#EAEFF7"><span>Kiribati</span></div>
<div class="td c" style="left:143.9px;top:557.0px;width:183.1px;height:28.5px;background:#EAEFF7"><span>Above Normal</span></div>
<div class="td c" style="left:328.2px;top:557.0px;width:90.6px;height:28.5px;background:#EAEFF7"><span>High</span></div>
<div class="td l" style="left:29.8px;top:586.5px;width:112.9px;height:43.0px;background:#D2DEEF"><span>Marshall<br>Islands</span></div>
<div class="td c" style="left:143.9px;top:586.5px;width:183.1px;height:43.0px;background:#D2DEEF"><span>Above Normal</span></div>
<div class="td c" style="left:328.2px;top:586.5px;width:90.6px;height:43.0px;background:#D2DEEF"><span>High</span></div>
<div class="td l" style="left:29.8px;top:630.5px;width:112.9px;height:29.0px;background:#EAEFF7"><span>Nauru</span></div>
<div class="td c" style="left:143.9px;top:630.5px;width:183.1px;height:29.0px;background:#EAEFF7"><span>Above Normal</span></div>
<div class="td c" style="left:328.2px;top:630.5px;width:90.6px;height:29.0px;background:#EAEFF7"><span>Moderate</span></div>
<div class="td l" style="left:29.8px;top:660.5px;width:112.9px;height:27.7px;background:#D2DEEF"><span>Niue</span></div>
<div class="td c" style="left:143.9px;top:660.5px;width:183.1px;height:27.7px;background:#D2DEEF"><span>Above Normal</span></div>
<div class="td c" style="left:328.2px;top:660.5px;width:90.6px;height:27.7px;background:#D2DEEF"><span>Low</span></div>
<div class="td l" style="left:29.8px;top:689.2px;width:112.9px;height:28.5px;background:#EAEFF7"><span>Palau</span></div>
<div class="td c" style="left:143.9px;top:689.2px;width:183.1px;height:28.5px;background:#EAEFF7"><span>Above Normal</span></div>
<div class="td c" style="left:328.2px;top:689.2px;width:90.6px;height:28.5px;background:#EAEFF7"><span>Low</span></div>
<div class="td l" style="left:29.8px;top:718.7px;width:112.9px;height:28.0px;background:#D2DEEF"><span>PNG</span></div>
<div class="td c" style="left:143.9px;top:718.7px;width:183.1px;height:28.0px;background:#D2DEEF"><span>Normal</span></div>
<div class="td c" style="left:328.2px;top:718.7px;width:90.6px;height:28.0px;background:#D2DEEF"><span>Low</span></div>
<div class="td l" style="left:29.8px;top:747.7px;width:112.9px;height:28.0px;background:#EAEFF7"><span>Samoa</span></div>
<div class="td c" style="left:143.9px;top:747.7px;width:183.1px;height:28.0px;background:#EAEFF7"><span>Above Normal</span></div>
<div class="td c" style="left:328.2px;top:747.7px;width:90.6px;height:28.0px;background:#EAEFF7"><span>Moderate</span></div>
<div class="td l" style="left:29.8px;top:776.7px;width:112.9px;height:43.5px;background:#D2DEEF"><span>Solomon<br>Islands</span></div>
<div class="td c" style="left:143.9px;top:776.7px;width:183.1px;height:43.5px;background:#D2DEEF"><span>Above Normal</span></div>
<div class="td c" style="left:328.2px;top:776.7px;width:90.6px;height:43.5px;background:#D2DEEF"><span>Low</span></div>
<div class="td l" style="left:29.8px;top:821.2px;width:112.9px;height:29.0px;background:#EAEFF7"><span>Tonga</span></div>
<div class="td c" style="left:143.9px;top:821.2px;width:183.1px;height:29.0px;background:#EAEFF7"><span>Above Normal</span></div>
<div class="td c" style="left:328.2px;top:821.2px;width:90.6px;height:29.0px;background:#EAEFF7"><span>Low</span></div>
<div class="td l" style="left:29.8px;top:851.2px;width:112.9px;height:27.8px;background:#D2DEEF"><span>Tokelau</span></div>
<div class="td c" style="left:143.9px;top:851.2px;width:183.1px;height:27.8px;background:#D2DEEF"><span>Above Normal</span></div>
<div class="td c" style="left:328.2px;top:851.2px;width:90.6px;height:27.8px;background:#D2DEEF"><span>Moderate</span></div>
<div class="td l" style="left:29.8px;top:880.0px;width:112.9px;height:28.0px;background:#EAEFF7"><span>Tuvalu</span></div>
<div class="td c" style="left:143.9px;top:880.0px;width:183.1px;height:28.0px;background:#EAEFF7"><span>Above Normal</span></div>
<div class="td c" style="left:328.2px;top:880.0px;width:90.6px;height:28.0px;background:#EAEFF7"><span>High</span></div>
<div class="td l" style="left:29.8px;top:909.0px;width:112.9px;height:28.3px;background:#D2DEEF"><span>Vanuatu</span></div>
<div class="td c" style="left:143.9px;top:909.0px;width:183.1px;height:28.3px;background:#D2DEEF"><span>Above Normal</span></div>
<div class="td c" style="left:328.2px;top:909.0px;width:90.6px;height:28.3px;background:#D2DEEF"><span>High</span></div>

<div class="box"></div>
<div class="bx" style="top:450.5px"><b>Important:</b><br>This publication is developed from<br>information in the CLIK Pacific (CLIK℗)<br>Online Climate Prediction Toolkit for<br>the Pacific. <a>clikp.sprep.org</a><br><br>It is compiled to provide dynamical<br>model data to support and<br>complement statistical model<br>information generated by Pacific<br>Islands National Met Services.</div>
<div class="abs" style="left:457.5px;top:660.5px;width:213.5px;height:1.4px;background:#1F3864"></div>
<div class="bx" style="top:680px"><i>CONTACT INFORMATION:</i></div>
<div class="bx" style="top:715px">For more information please contact<br>Mr.&nbsp; Sunny Seuseu, Climate Prediction<br>Services Coordinator, SPREP<br><span style="color:#262626">sunnys@sprep.org</span></div>

<!-- bottom-right swirl (over box) -->
<svg width="720" height="960" viewBox="0 0 720 960">
 <g opacity=".2" fill="#4A5870" stroke="#4A5870" stroke-width="0" stroke-linecap="butt">
  <path d="M615 748 C620 768 632 792 645 807 L660 807 C654 798 650 790 648 784 L675 788 L683 775 C670 776 650 772 640 766 C630 760 622 754 615 748 Z"/>
  <path d="M660 779.5 C678 783 694 785 706 791 C714 796 719 802 724 808" fill="none" stroke-width="14.5"/>
  <path d="M642 798 C648 805 664 817 676 825 C682 829 690 836 696 845 C702 854 706 864 708.5 874 C712 886 714 897 713.5 908.3 C713 920 711 930 708.5 937.8 C706 947 702 957 697 967" fill="none" stroke-width="15.5" stroke-linecap="round"/>
  <path d="M686.7 814.4 C692 810 697 806 699 797 L724 794 L724 818 C712 826.5 697 825 686.7 814.4 Z"/>
  <path d="M641 935 C629 931 623.5 918 623.5 903 C623.5 886 637 872 654 872 C671 872 684.5 886 684.5 903 C684.5 925 678 948 664 970" fill="none" stroke-width="15.5"/>
  <path d="M659.5 927 C653 934 647 941 641 942.7 L638 927.5 C646 929 653 928.5 659.5 927 Z"/>
  <path d="M623.5 910 C623 930 627 950 636 968" fill="none" stroke-width="15.5"/>
 </g>
</svg>

<!-- SPREP logo -->
<svg width="720" height="960" viewBox="0 0 720 960">
 <defs><clipPath id="sc"><circle cx="480.2" cy="858" r="29.9"/></clipPath></defs>
 <path d="M484.7 829.2 A29.2 29.2 0 0 0 453.6 870.3 M506.8 870.3 A29.2 29.2 0 0 0 504.6 842.3" fill="none" stroke="#1460AA" stroke-width="2"/>
 <g clip-path="url(#sc)" fill="none" stroke="#1460AA" stroke-width="3">
  <path d="M449 871.8 q7.8 -4 15.6 0 t15.6 0 t15.6 0 t15.6 0"/>
  <path d="M449 876.6 q7.8 -4 15.6 0 t15.6 0 t15.6 0 t15.6 0"/>
  <path d="M449 881.4 q7.8 -4 15.6 0 t15.6 0 t15.6 0 t15.6 0"/>
 </g>
 <g fill="#1A9A82">
  <path d="M469.5 869.5 C470 862 474 858.5 478 858 L478 852.5 L476 852 L476 845.5 L484 845.5 L484 852 L482.5 852.5 L482.5 858 C487 858.5 491 862 491.5 869.5 Z"/>
  <circle cx="479.7" cy="842.6" r="2.2"/>
  <path d="M488 868 C492 860 495 850 495.3 838 L497.3 838 C497.5 852 494 862 491.5 869.5 Z"/>
  <path fill="none" stroke="#1A9A82" stroke-width="2.1" stroke-linecap="round" d="M495.6 836 Q490 833.6 486.2 838.2 M495.6 836 Q491.5 831.2 488.6 832 M495.6 836 Q495 831.5 495.7 828.8 M495.6 836 Q499 831.8 501.8 832 M495.6 836 Q501 834.2 504.8 837.4 M495.6 836 Q501.2 838.5 502.6 845.2 M495.6 836 Q491.6 838.5 491 845.2"/>
 </g>
 <g fill="#E8788A"><circle cx="467.6" cy="840.7" r="0.9"/><circle cx="462.8" cy="845.5" r="0.9"/><circle cx="472.5" cy="845.3" r="0.9"/><circle cx="467.6" cy="852.8" r="0.9"/></g>
 <text x="480.5" y="901" text-anchor="middle" textLength="55" lengthAdjust="spacingAndGlyphs" style="font:bold 17.5px 'Liberation Sans',sans-serif;fill:#1460AA;stroke:#1460AA;stroke-width:.5px">SPREP</text>
 <text x="480.8" y="919.3" text-anchor="middle" textLength="44.5" lengthAdjust="spacingAndGlyphs" style="font:bold 17.5px 'Liberation Sans',sans-serif;fill:#1460AA;stroke:#1460AA;stroke-width:.5px">PROE</text>
</svg>

<div class="ci" style="top:836px">PO Box 240, Apia, Samoa<br>E: <a>sprep@sprep.org</a><br>T: +685 21929<br>F: +685 20231<br>W: <a>www.sprep.org</a></div>
<div class="abs" style="left:655px;top:907px;font-size:12px;color:#898989">2</div>
<div class="ft" id="ft">A resilient Pacific environment, sustaining our livelihoods and natural heritage in harmony with our cultures.</div>
</body></html>
